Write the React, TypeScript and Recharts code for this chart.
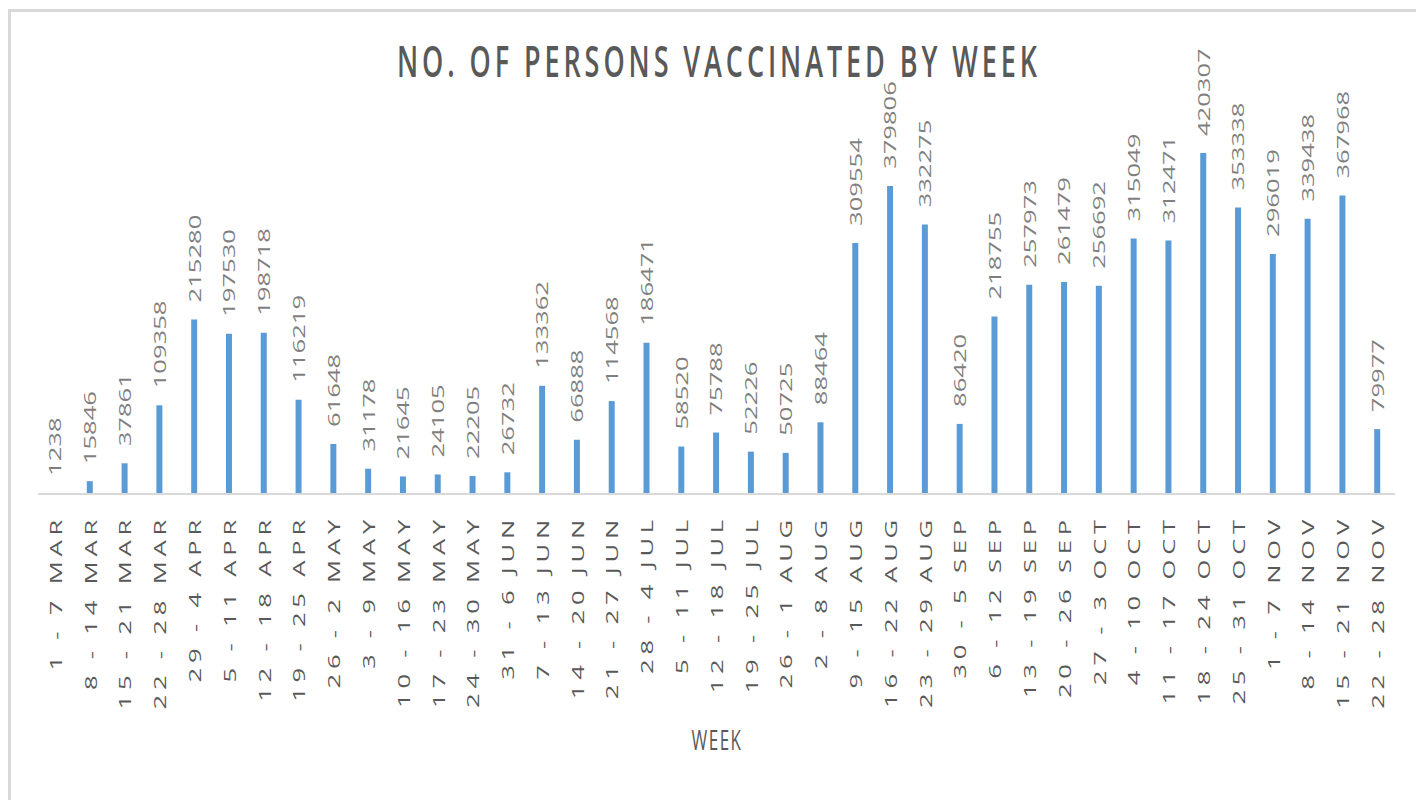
import { BarChart, Bar, XAxis, YAxis, LabelList } from "recharts";

const weeks = [
  "1 - 7 MAR", "8 - 14 MAR", "15 - 21 MAR", "22 - 28 MAR", "29 - 4 APR",
  "5 - 11 APR", "12 - 18 APR", "19 - 25 APR", "26 - 2 MAY", "3 - 9 MAY",
  "10 - 16 MAY", "17 - 23 MAY", "24 - 30 MAY", "31 - 6 JUN", "7 - 13 JUN",
  "14 - 20 JUN", "21 - 27 JUN", "28 - 4 JUL", "5 - 11 JUL", "12 - 18 JUL",
  "19 - 25 JUL", "26 - 1 AUG", "2 - 8 AUG", "9 - 15 AUG", "16 - 22 AUG",
  "23 - 29 AUG", "30 - 5 SEP", "6 - 12 SEP", "13 - 19 SEP", "20 - 26 SEP",
  "27 - 3 OCT", "4 - 10 OCT", "11 - 17 OCT", "18 - 24 OCT", "25 - 31 OCT",
  "1 - 7 NOV", "8 - 14 NOV", "15 - 21 NOV", "22 - 28 NOV",
];

const vaccinated = [
  1238, 15846, 37861, 109358, 215280, 197530, 198718, 116219, 61648, 31178,
  21645, 24105, 22205, 26732, 133362, 66888, 114568, 186471, 58520, 75788,
  52226, 50725, 88464, 309554, 379806, 332275, 86420, 218755, 257973, 261479,
  256692, 315049, 312471, 420307, 353338, 296019, 339438, 367968, 79977,
];

const chartData = weeks.map((week, i) => ({ week, persons: vaccinated[i] }));

const FONT = "'Open Sans', sans-serif";
const STRETCH = 1.6; // the picture is stretched vertically

// rotated, vertically stretched category labels
const WeekTick = ({ x, payload }: any) => (
  <text
    transform={`translate(${x}, 515) scale(1, ${STRETCH}) rotate(-90)`}
    textAnchor="end"
    dominantBaseline="central"
    fontFamily={FONT}
    fontSize={16}
    letterSpacing={3}
    fill="#595959"
  >
    {payload.value}
  </text>
);

// value labels sitting on top of each bar
const ValueLabel = ({ x, y, width, value }: any) => (
  <text
    transform={`translate(${x + width / 2}, ${y - 17}) scale(1, ${STRETCH}) rotate(-90)`}
    textAnchor="start"
    dominantBaseline="central"
    fontFamily={FONT}
    fontSize={16}
    fill="#7f7f7f"
  >
    {value}
  </text>
);

export default function App() {
  return (
    <div style={{ position: "absolute", left: 0, top: 0, width: 1416, height: 800, overflow: "hidden", background: "#fff" }}>
      {/* chart frame, cut off at right and bottom */}
      <div
        style={{
          position: "absolute",
          left: 8,
          top: 9,
          width: 1430,
          height: 820,
          borderLeft: "3px solid #d9d9d9",
          borderTop: "3px solid #d9d9d9",
        }}
      />
      <div style={{ position: "absolute", left: 0, top: 0 }}>
        <BarChart
          width={1416}
          height={800}
          data={chartData}
          margin={{ top: 129, right: 21, left: 38, bottom: 0 }}
        >
          <XAxis
            dataKey="week"
            interval={0}
            height={306}
            tickLine={false}
            axisLine={{ stroke: "#d9d9d9", strokeWidth: 2 }}
            tick={<WeekTick />}
          />
          <YAxis hide domain={[0, 450000]} />
          <Bar dataKey="persons" fill="#5b9bd5" barSize={6} isAnimationActive={false}>
            <LabelList dataKey="persons" content={<ValueLabel />} />
          </Bar>
        </BarChart>
      </div>
      <svg width={1416} height={800} style={{ position: "absolute", left: 0, top: 0, pointerEvents: "none" }}>
        <text
          transform={`translate(717, 77) scale(1, ${STRETCH})`}
          textAnchor="middle"
          fontFamily={FONT}
          fontSize={27}
          fontWeight={600}
          textLength={640}
          lengthAdjust="spacing"
          fill="#595959"
        >
          NO. OF PERSONS VACCINATED BY WEEK
        </text>
        <text
          transform={`translate(717, 750) scale(1, ${STRETCH})`}
          textAnchor="middle"
          fontFamily={FONT}
          fontSize={17}
          letterSpacing={1.5}
          fill="#595959"
        >
          WEEK
        </text>
      </svg>
    </div>
  );
}
